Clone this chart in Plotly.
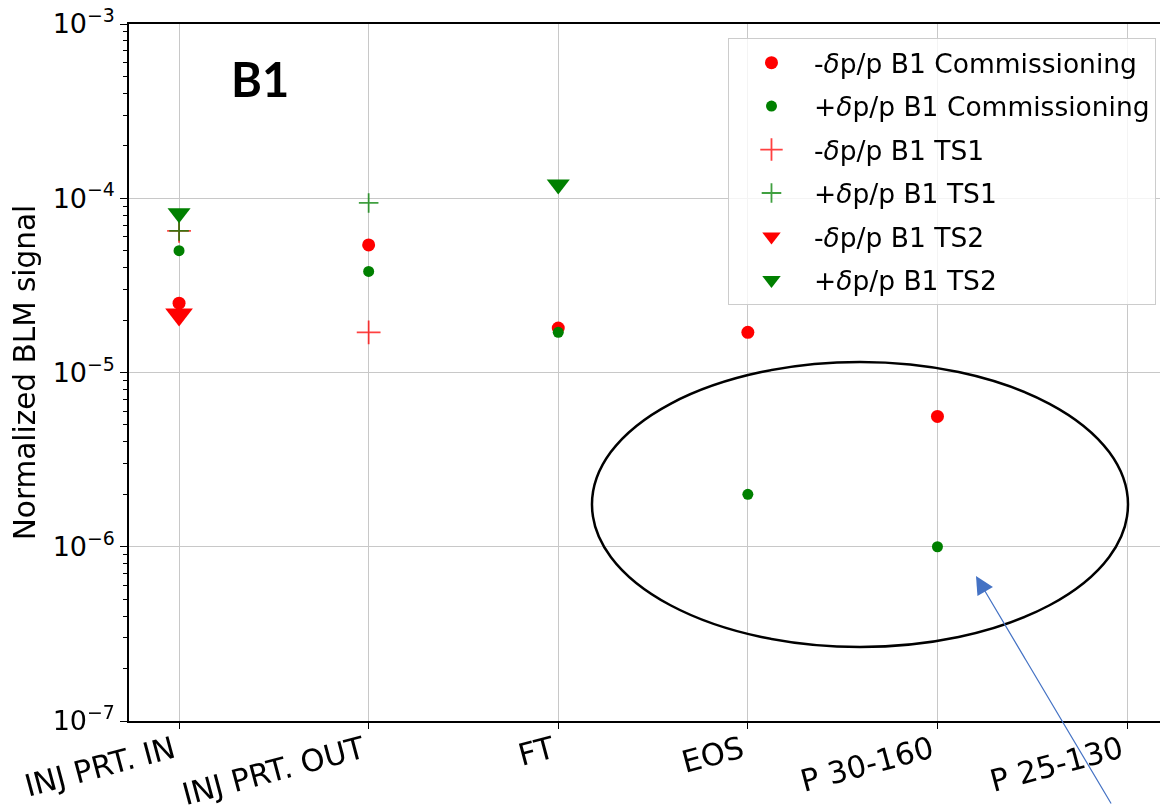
import plotly.graph_objects as go

categories = ["INJ PRT. IN", "INJ PRT. OUT", "FT", "EOS", "P 30-160", "P 25-130"]

minus_comm_x = ["INJ PRT. IN", "INJ PRT. OUT", "FT", "EOS", "P 30-160"]
minus_comm_y = [2.5e-5, 5.4e-5, 1.8e-5, 1.7e-5, 5.6e-6]

plus_comm_x = ["INJ PRT. IN", "INJ PRT. OUT", "FT", "EOS", "P 30-160"]
plus_comm_y = [5.0e-5, 3.8e-5, 1.7e-5, 2.0e-6, 1.0e-6]

minus_ts1_x = ["INJ PRT. IN", "INJ PRT. OUT"]
minus_ts1_y = [6.5e-5, 1.7e-5]

plus_ts1_x = ["INJ PRT. IN", "INJ PRT. OUT"]
plus_ts1_y = [6.5e-5, 9.4e-5]

minus_ts2_x = ["INJ PRT. IN"]
minus_ts2_y = [2.15e-5]

plus_ts2_x = ["INJ PRT. IN", "FT"]
plus_ts2_y = [8.2e-5, 1.2e-4]

y_ticks = [1e-7, 1e-6, 1e-5, 1e-4, 1e-3]
y_ticktext = ["10<sup>\u22127</sup>", "10<sup>\u22126</sup>", "10<sup>\u22125</sup>",
              "10<sup>\u22124</sup>", "10<sup>\u22123</sup>"]

RED = "#ff0000"
GREEN = "#008000"
FONT = "DejaVu Sans"

fig = go.Figure()
fig.add_trace(go.Scatter(x=minus_comm_x, y=minus_comm_y, mode="markers",
                         name="-<i>\u03b4</i>p/p B1 Commissioning", legendgroup="a",
                         marker=dict(symbol="circle", size=13, color=RED)))
fig.add_trace(go.Scatter(x=plus_comm_x, y=plus_comm_y, mode="markers",
                         name="+<i>\u03b4</i>p/p B1 Commissioning", legendgroup="b",
                         marker=dict(symbol="circle", size=11, color=GREEN)))
fig.add_trace(go.Scatter(x=minus_ts1_x, y=minus_ts1_y, mode="markers",
                         name="-<i>\u03b4</i>p/p B1 TS1", legendgroup="c", opacity=0.75,
                         marker=dict(symbol="cross-thin", size=17, color=RED,
                                     line=dict(color=RED, width=1.8))))
fig.add_trace(go.Scatter(x=plus_ts1_x, y=plus_ts1_y, mode="markers",
                         name="+<i>\u03b4</i>p/p B1 TS1", legendgroup="d", opacity=0.75,
                         marker=dict(symbol="cross-thin", size=14, color=GREEN,
                                     line=dict(color=GREEN, width=1.8))))
fig.add_trace(go.Scatter(x=minus_ts2_x, y=minus_ts2_y, mode="markers",
                         name="-<i>\u03b4</i>p/p B1 TS2", legendgroup="e",
                         marker=dict(symbol="triangle-down", size=24, color=RED)))
fig.add_trace(go.Scatter(x=plus_ts2_x, y=plus_ts2_y, mode="markers",
                         name="+<i>\u03b4</i>p/p B1 TS2", legendgroup="f",
                         marker=dict(symbol="triangle-down", size=20, color=GREEN)))

minor_vals = [k * 10.0 ** e for e in range(-7, -3) for k in range(2, 10)]

# invisible trace to carry the minor-tick overlay axis
fig.add_trace(go.Scatter(x=[categories[0]], y=[1e-5], yaxis="y2", mode="markers",
                         marker=dict(size=1, opacity=0), showlegend=False,
                         hoverinfo="skip"))

# page has an 8px body margin: figure is sized so the plot area lands where the reference has it
fig.update_layout(
    width=1160, height=797,
    margin=dict(l=121, r=0, t=16, b=84),
    paper_bgcolor="white", plot_bgcolor="white",
    font=dict(family=FONT, size=25, color="black"),
    showlegend=True,
    legend=dict(x=0.5765, y=0.98, xanchor="left", yanchor="top",
                bgcolor="rgba(255,255,255,0.8)", bordercolor="#cccccc", borderwidth=1,
                font=dict(family=FONT, size=26.5), tracegroupgap=6, itemwidth=75),
    xaxis=dict(type="category", categoryorder="array", categoryarray=categories,
               range=[-0.264, 5.216], tickangle=-15, automargin=False,
               tickfont=dict(family=FONT, size=30.5),
               ticklabelstandoff=-8, ticklabelshift=-6, ticklabeloverflow="allow",
               showgrid=True, gridcolor="#c8c8c8", gridwidth=1,
               showline=True, linecolor="black", linewidth=1.5, mirror=True,
               ticks="outside", ticklen=6, tickcolor="black", zeroline=False),
    yaxis=dict(type="log", range=[-7, -3], tickvals=y_ticks, ticktext=y_ticktext,
               automargin=False, ticklabeloverflow="allow",
               tickfont=dict(family=FONT, size=27),
               title=dict(text="Normalized BLM signal", font=dict(family=FONT, size=29.5),
                          standoff=12),
               showgrid=True, gridcolor="#c8c8c8", gridwidth=1,
               showline=True, linecolor="black", linewidth=1.5, mirror=False,
               ticks="outside", ticklen=7, tickcolor="black", zeroline=False),
    yaxis2=dict(type="log", range=[-7, -3], overlaying="y", side="left", anchor="x",
                automargin=False, tickmode="array", tickvals=minor_vals,
                ticktext=[""] * len(minor_vals),
                ticks="outside", ticklen=5, tickwidth=1.2, tickcolor="black",
                showgrid=False, zeroline=False, showline=False),
)

# Ellipse highlight
fig.add_shape(type="circle", xref="paper", yref="paper",
              x0=0.4456, x1=0.9615, y0=0.1062, y1=0.515,
              line=dict(color="black", width=2.5))

# B1 label
fig.add_annotation(x=0.126, y=0.921, xref="paper", yref="paper", text="<b>B1</b>",
                   xanchor="center", yanchor="middle",
                   showarrow=False, font=dict(family="Lato", size=47, color="black"))

# Blue arrow
fig.add_annotation(x=0.8152, y=0.208, xref="paper", yref="paper", text="",
                   showarrow=True, ax=136, ay=229, arrowhead=2, arrowsize=3,
                   arrowwidth=1.2, arrowcolor="#4472C4")

fig.write_html("out.html")
